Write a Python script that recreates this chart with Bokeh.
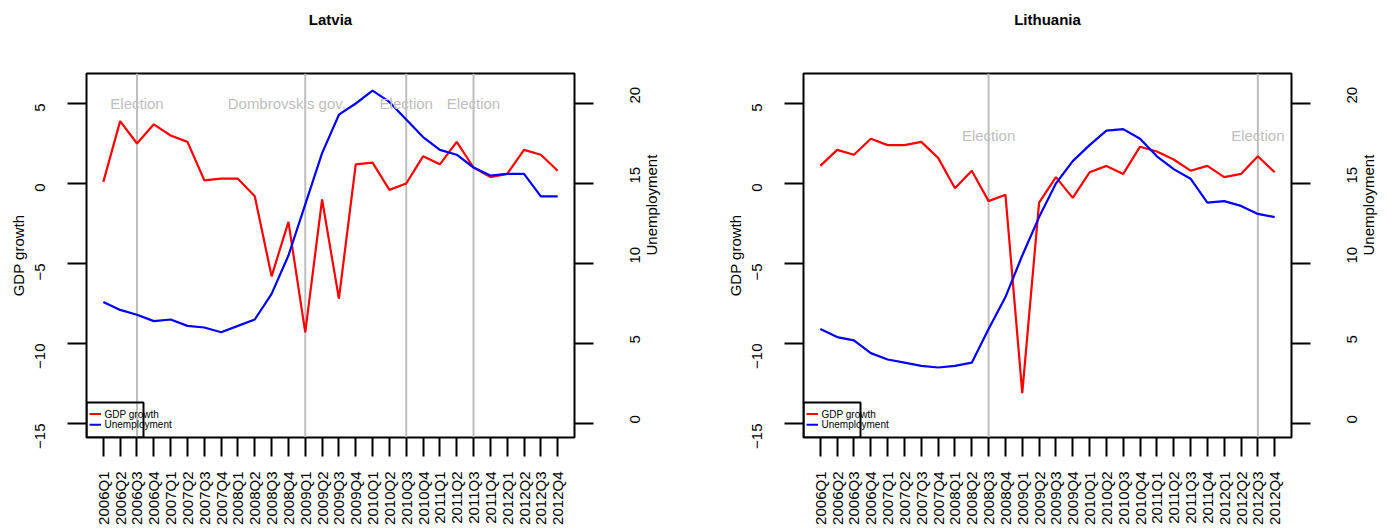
import math
from bokeh.plotting import figure
from bokeh.models import Range1d, LinearAxis, FixedTicker, Span, Title
from bokeh.layouts import row
from bokeh.core.properties import value
from bokeh.embed import file_html
from bokeh.resources import INLINE

# ---------------- data ----------------
quarters = ["2006Q1", "2006Q2", "2006Q3", "2006Q4", "2007Q1", "2007Q2", "2007Q3", "2007Q4",
            "2008Q1", "2008Q2", "2008Q3", "2008Q4", "2009Q1", "2009Q2", "2009Q3", "2009Q4",
            "2010Q1", "2010Q2", "2010Q3", "2010Q4", "2011Q1", "2011Q2", "2011Q3", "2011Q4",
            "2012Q1", "2012Q2", "2012Q3", "2012Q4"]

lv_gdp = [0.1, 3.9, 2.5, 3.7, 3.0, 2.6, 0.2, 0.3, 0.3, -0.8, -5.8, -2.4, -9.3, -1.0,
          -7.2, 1.2, 1.3, -0.4, 0.0, 1.7, 1.2, 2.6, 1.0, 0.4, 0.6, 2.1, 1.8, 0.8]
lv_unemp = [7.6, 7.1, 6.8, 6.4, 6.5, 6.1, 6.0, 5.7, 6.1, 6.5, 8.1, 10.5, 13.7, 16.9,
            19.3, 20.0, 20.8, 20.1, 19.0, 17.9, 17.1, 16.8, 16.0, 15.5, 15.6, 15.6, 14.2, 14.2]
lt_gdp = [1.1, 2.1, 1.8, 2.8, 2.4, 2.4, 2.6, 1.6, -0.3, 0.8, -1.1, -0.7, -13.1, -1.2,
          0.4, -0.9, 0.7, 1.1, 0.6, 2.3, 2.0, 1.5, 0.8, 1.1, 0.4, 0.6, 1.7, 0.7]
lt_unemp = [5.9, 5.4, 5.2, 4.4, 4.0, 3.8, 3.6, 3.5, 3.6, 3.8, 5.9, 7.9, 10.5, 12.9,
            15.0, 16.4, 17.4, 18.3, 18.4, 17.8, 16.7, 15.9, 15.3, 13.8, 13.9, 13.6, 13.1, 12.9]

lv_event_quarters = ["2006Q3", "2009Q1", "2010Q3", "2011Q3"]
lv_event_labels = ["Election", "Dombrovskis gov.", "Election", "Election"]
lv_label_shift = [0.0, -1.1, 0.0, 0.0]   # offset of the text from its line (quarters)
lv_label_y = 5

lt_event_quarters = ["2008Q3", "2012Q3"]
lt_event_labels = ["Election", "Election"]
lt_label_shift = [0.0, 0.0]
lt_label_y = 3

gdp_ticks = [-15, -10, -5, 0, 5]
unemp_ticks = [0, 5, 10, 15, 20]

# ---------------- style / layout ----------------
FONT = "Liberation Sans"
GREY = "#BEBEBE"
H = 531
BT, BB = 73, 94
FRAME_W, FRAME_H = 488, 364
Y0, Y1 = -15.875, 6.875
U_SHIFT = 15.0  # right axis offset against left axis


def minus(v):
    return str(v).replace("-", "\u2212")


def panel(name, gdp, unemp, ev_q, ev_lab, ev_shift, lab_y, border_left, border_right):
    n = len(quarters)
    xs = list(range(1, n + 1))
    p = figure(width=border_left + FRAME_W + border_right, height=H, output_backend="svg",
               toolbar_location=None, x_range=Range1d(0, n + 1), y_range=Range1d(Y0, Y1),
               min_border_left=border_left, min_border_right=border_right,
               min_border_top=BT, min_border_bottom=BB)
    p.extra_y_ranges = {"u": Range1d(Y0 + U_SHIFT, Y1 + U_SHIFT)}
    p.xgrid.grid_line_color = None
    p.ygrid.grid_line_color = None
    p.outline_line_color = "black"
    p.outline_line_width = 2
    p.background_fill_color = "white"
    p.border_fill_color = "white"

    p.title.text = name
    p.title.align = "center"
    p.title.vertical_align = "top"
    p.title.text_font = FONT
    p.title.text_font_size = "15px"
    p.title.text_font_style = "bold"
    p.title.text_color = "black"
    p.title.standoff = 18
    # blank spacer between the title and the frame
    p.add_layout(Title(text=" ", text_font_size="15px", standoff=16), "above")

    px_x = FRAME_W / (n + 1)
    px_y = FRAME_H / (Y1 - Y0)

    # event lines
    for q in ev_q:
        p.add_layout(Span(location=quarters.index(q) + 1, dimension="height",
                          line_color=GREY, line_width=2, level="underlay"))

    p.line(xs, gdp, line_color="#FF0000", line_width=2.2)
    p.line(xs, unemp, line_color="#0000FF", line_width=2.2, y_range_name="u")

    ex = [quarters.index(q) + 1 + s for q, s in zip(ev_q, ev_shift)]
    p.text(x=ex, y=[lab_y] * len(ex), text=ev_lab, text_color=GREY,
           text_font=value(FONT), text_font_size="15px", text_align="center",
           text_baseline="middle")

    # axes
    xa = p.xaxis[0]
    xa.ticker = FixedTicker(ticks=xs)
    xa.major_label_overrides = {i: q for i, q in zip(xs, quarters)}
    xa.major_label_standoff = 15

    ya = p.yaxis[0]
    ya.ticker = FixedTicker(ticks=gdp_ticks)
    ya.major_label_overrides = {t: minus(t) for t in gdp_ticks}
    ya.major_label_standoff = 28
    ya.axis_label = "GDP growth"
    ya.axis_label_standoff = 0

    ra = LinearAxis(y_range_name="u", ticker=FixedTicker(ticks=unemp_ticks))
    ra.major_label_standoff = 41
    ra.axis_label = "Unemployment"
    ra.axis_label_standoff = 4
    ra.axis_label_orientation = math.pi / 2
    p.add_layout(ra, "right")

    for ax in (xa, ya, ra):
        ax.axis_line_color = None
        ax.major_tick_out = 19
        ax.major_tick_in = 0
        ax.major_tick_line_width = 2
        ax.major_tick_line_color = "black"
        ax.minor_tick_line_color = None
        ax.major_label_text_font = FONT
        ax.major_label_text_font_size = "15px"
        ax.major_label_text_color = "black"
        ax.major_label_orientation = math.pi / 2
        ax.axis_label_text_font = FONT
        ax.axis_label_text_font_size = "15px"
        ax.axis_label_text_font_style = "normal"
        ax.axis_label_text_color = "black"

    # legend (bottom-left)
    lx1 = 57 / px_x
    ly1 = Y0 + 35 / px_y
    p.quad(left=[0], right=[lx1], bottom=[Y0], top=[ly1], fill_alpha=0,
           line_color="black", line_width=2)
    rows_y = [Y0 + 23.5 / px_y, Y0 + 12.7 / px_y]
    p.segment(x0=[3 / px_x] * 2, x1=[14.5 / px_x] * 2, y0=rows_y, y1=rows_y,
              line_color=["#FF0000", "#0000FF"], line_width=2)
    p.text(x=[18 / px_x] * 2, y=rows_y, text=["GDP growth", "Unemployment"],
           text_font=value(FONT), text_font_size="10px", text_baseline="middle")
    return p


p1 = panel("Latvia", lv_gdp, lv_unemp, lv_event_quarters, lv_event_labels,
           lv_label_shift, lv_label_y, 86, 143)
p2 = panel("Lithuania", lt_gdp, lt_unemp, lt_event_quarters, lt_event_labels,
           lt_label_shift, lt_label_y, 86, 97)

layout = row(p1, p2)
open("out.html", "w").write(file_html(layout, INLINE))
